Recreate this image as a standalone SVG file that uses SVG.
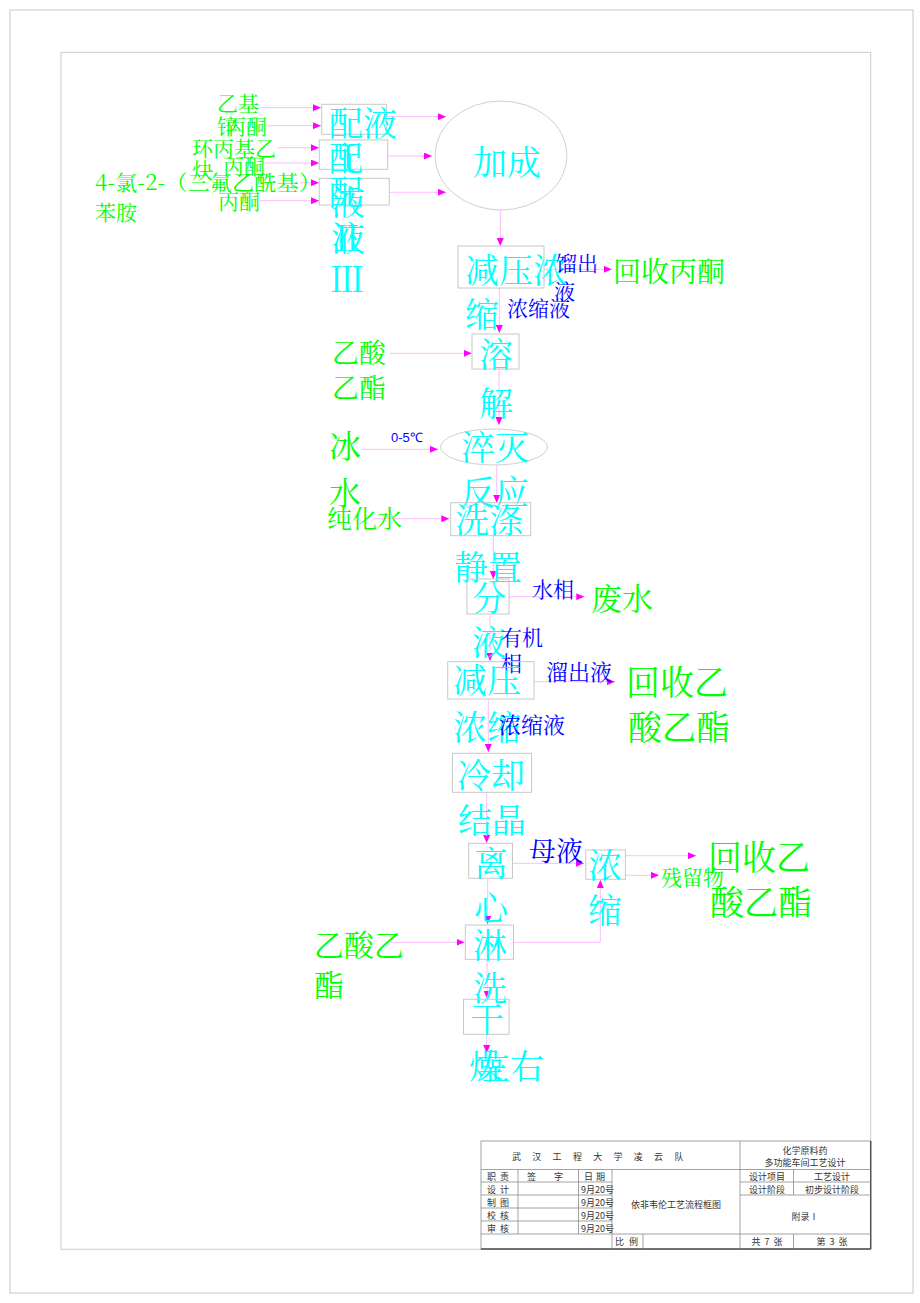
<svg xmlns="http://www.w3.org/2000/svg" width="920" height="1303" viewBox="0 0 920 1303">
<defs>
<marker id="ah" markerUnits="userSpaceOnUse" markerWidth="9" markerHeight="7" refX="8" refY="3.5" orient="auto"><path d="M0,0 L8,3.5 L0,7 z" fill="#ff00ff"/></marker>
</defs>
<style>
.t{font-family:"Noto Serif CJK SC","Noto Sans CJK SC",sans-serif;}
.cy{fill:#00ffff;font-size:34px;}
.gr{fill:#00ff00;}
.bl{fill:#0000ff;}
.bx{fill:none;stroke:#c8c8c8;stroke-width:1;}
.cn{fill:none;stroke:#ffb4ff;stroke-width:0.9;marker-end:url(#ah);}
.tb{font-family:"Noto Sans CJK SC",sans-serif;fill:#333;font-size:9px;}
.tl{stroke:#8a8a8a;stroke-width:0.8;fill:none;}
</style>
<rect width="920" height="1303" fill="#fff"/>
<g id="frame">
<rect x="10" y="10" width="903" height="1283" fill="none" stroke="#c8c8c8" stroke-width="1"/>
<rect x="61" y="52.3" width="809.7" height="1197" fill="none" stroke="#cccccc" stroke-width="1"/>
</g>
<g id="connectors">
<line class="cn" x1="258" y1="107.7" x2="321" y2="107.7"/>
<line class="cn" x1="267" y1="125.7" x2="321" y2="125.7"/>
<line class="cn" x1="278" y1="147.7" x2="319" y2="147.7"/>
<line class="cn" x1="263" y1="163" x2="319" y2="163"/>
<line class="cn" x1="300" y1="182.7" x2="319" y2="182.7"/>
<line class="cn" x1="260" y1="200.7" x2="319" y2="200.7"/>
<line class="cn" x1="386.7" y1="116.7" x2="446" y2="116.7"/>
<line class="cn" x1="387.7" y1="156" x2="432" y2="156"/>
<line class="cn" x1="389.3" y1="192.3" x2="446" y2="192.3"/>
<line class="cn" x1="500.3" y1="210" x2="500.3" y2="246"/>
<line class="cn" x1="544" y1="269.3" x2="611.7" y2="269.3"/>
<line class="cn" x1="499.3" y1="288" x2="499.3" y2="333"/>
<line class="cn" x1="390" y1="353.3" x2="471.7" y2="353.3"/>
<line class="cn" x1="499" y1="369" x2="499" y2="425"/>
<line class="cn" x1="361.7" y1="449.3" x2="438" y2="449.3"/>
<line class="cn" x1="496.7" y1="465" x2="496.7" y2="503"/>
<line class="cn" x1="373" y1="518.7" x2="449.3" y2="518.7"/>
<line class="cn" x1="493.3" y1="535.7" x2="493.3" y2="579"/>
<line class="cn" x1="509" y1="596.7" x2="584.3" y2="596.7"/>
<line class="cn" x1="490" y1="614" x2="490" y2="661"/>
<line class="cn" x1="534" y1="681.7" x2="615" y2="681.7"/>
<line class="cn" x1="488.3" y1="699" x2="488.3" y2="752"/>
<line class="cn" x1="486.6" y1="792.3" x2="486.6" y2="843"/>
<line class="cn" x1="512.5" y1="863.3" x2="584" y2="863.3"/>
<line class="cn" x1="625.4" y1="855.7" x2="696" y2="855.7"/>
<line class="cn" x1="625.4" y1="875.3" x2="659" y2="875.3"/>
<line class="cn" x1="487.7" y1="878.3" x2="487.7" y2="924"/>
<line class="cn" x1="391" y1="942.3" x2="464.6" y2="942.3"/>
<polyline class="cn" points="513.5,942.3 600.3,942.3 600.3,880"/>
<line class="cn" x1="487" y1="959.3" x2="487" y2="998.5"/>
<line class="cn" x1="486.7" y1="1034.3" x2="486.7" y2="1053"/>
</g>
<g id="inputs" class="t">
<text class="gr" x="217" y="111" font-size="21">乙基</text>
<text class="gr" x="217" y="134" font-size="21">锌</text>
<text class="gr" x="225" y="134" font-size="21">丙酮</text>
<text class="gr" x="192" y="156" font-size="21">环丙基乙</text>
<text class="gr" x="192" y="178" font-size="21">炔</text>
<text class="gr" x="223" y="174" font-size="21">丙酮</text>
<text class="gr" x="95" y="190" font-size="21" textLength="226" lengthAdjust="spacingAndGlyphs">4-氯-2-（三氟乙酰基）</text>
<text class="gr" x="95" y="220" font-size="21">苯胺</text>
<text class="gr" x="218" y="209" font-size="21">丙酮</text>
</g>
<g id="n-peiye1" class="t"><rect class="bx" x="321.7" y="104.3" width="65" height="30"/><text class="cy" x="329" y="136">配液</text><text class="cy" x="331" y="171">Ⅰ</text></g>
<g id="n-peiye2" class="t"><rect class="bx" x="319.3" y="140" width="68.4" height="29.3"/><text class="cy" x="329" y="171">配</text><text class="cy" x="331" y="215">液</text><text class="cy" x="330" y="251">Ⅱ</text></g>
<g id="n-peiye3" class="t"><rect class="bx" x="319.3" y="178.3" width="70" height="26.7"/><text class="cy" x="329" y="205">配</text><text class="cy" x="331" y="251">液</text><text class="cy" x="330" y="292">Ⅲ</text></g>
<g id="n-jiacheng" class="t"><ellipse cx="501" cy="155.5" rx="66" ry="54.5" fill="none" stroke="#d0d0d0" stroke-width="1"/><text class="cy" x="473" y="175" font-size="44">加成</text></g>
<g id="n-jianya1" class="t"><rect class="bx" x="458" y="246" width="86" height="42"/><text class="cy" x="465" y="283">减压浓</text><text class="cy" x="465" y="327">缩</text></g>
<g id="out-acetone" class="t"><text class="bl" x="556" y="271" font-size="21">馏出</text><text class="bl" x="554" y="299" font-size="21">液</text><text class="bl" x="507" y="316" font-size="21">浓缩液</text><text class="gr" x="613" y="282" font-size="28">回收丙酮</text></g>
<g id="n-rongjie" class="t"><rect class="bx" x="472" y="334" width="47" height="35"/><text class="cy" x="479" y="367">溶</text><text class="cy" x="479" y="416">解</text><text class="gr" x="332" y="363" font-size="27">乙酸</text><text class="gr" x="332" y="398" font-size="27">乙酯</text></g>
<g id="n-cuimie" class="t"><ellipse cx="494" cy="447" rx="53.5" ry="18" fill="none" stroke="#d0d0d0" stroke-width="1"/><text class="cy" x="461" y="460">淬灭</text><text class="cy" x="461" y="505">反应</text><text class="gr" x="329" y="458" font-size="32">冰</text><text class="gr" x="329" y="505" font-size="32">水</text><text class="bl" x="391" y="442" font-size="13" font-family="Liberation Sans,sans-serif">0-5℃</text></g>
<g id="n-xidi" class="t"><rect class="bx" x="450.7" y="502.7" width="80" height="33"/><text class="cy" x="455" y="533">洗涤</text><text class="cy" x="454" y="580">静置</text><text class="gr" x="327" y="528" font-size="25">纯化水</text></g>
<g id="n-fenye" class="t"><rect class="bx" x="467" y="579" width="42" height="35"/><text class="cy" x="472" y="611">分</text><text class="cy" x="472" y="655">液</text><text class="bl" x="532" y="597" font-size="21">水相</text><text class="gr" x="591" y="610" font-size="31">废水</text><text class="bl" x="501" y="645" font-size="21">有机</text><text class="bl" x="501" y="671" font-size="21">相</text></g>
<g id="n-jianya2" class="t"><rect class="bx" x="447.7" y="661.7" width="86.3" height="37.3"/><text class="cy" x="453" y="693">减压</text><text class="cy" x="453" y="740">浓缩</text><text class="bl" x="546" y="680" font-size="22">溜出液</text><text class="bl" x="499" y="733" font-size="22">浓缩液</text><text class="gr" x="626" y="695" font-size="34">回收乙</text><text class="gr" x="628" y="740" font-size="34">酸乙酯</text></g>
<g id="n-lengque" class="t"><rect class="bx" x="452.5" y="753.3" width="79" height="39"/><text class="cy" x="457" y="788">冷却</text><text class="cy" x="458" y="833">结晶</text></g>
<g id="n-lixin" class="t"><rect class="bx" x="468.7" y="843.3" width="43.8" height="35"/><text class="cy" x="474" y="876">离</text><text class="cy" x="474" y="921">心</text><text class="bl" x="529" y="861" font-size="27">母液</text></g>
<g id="n-nongsuo" class="t"><rect class="bx" x="585.8" y="850" width="39.6" height="29.3"/><text class="cy" x="588" y="878">浓</text><text class="cy" x="588" y="923">缩</text><text class="gr" x="661" y="885" font-size="21">残留物</text><text class="gr" x="708" y="870" font-size="34">回收乙</text><text class="gr" x="710" y="915" font-size="34">酸乙酯</text></g>
<g id="n-linxi" class="t"><rect class="bx" x="465.3" y="925" width="48.2" height="34.3"/><text class="cy" x="473" y="958">淋</text><text class="cy" x="473" y="1001">洗</text><text class="gr" x="314" y="956" font-size="30">乙酸乙</text><text class="gr" x="314" y="996" font-size="30">酯</text></g>
<g id="n-ganzao" class="t"><rect class="bx" x="463.5" y="999.3" width="45.5" height="35"/><text class="cy" x="470" y="1032">干</text><text class="cy" x="469" y="1079">燥</text><text class="cy" x="476" y="1079" font-size="26">左右</text></g>
<g id="titleblock">
<rect x="481" y="1141" width="389.7" height="108" fill="none" stroke="#8a8a8a" stroke-width="0.8"/>
<line x1="481" y1="1249" x2="870.7" y2="1249" stroke="#555" stroke-width="1.5"/>
<line x1="870.7" y1="1141" x2="870.7" y2="1249" stroke="#555" stroke-width="1.5"/>
<line class="tl" x1="481" y1="1169.5" x2="870.7" y2="1169.5"/>
<line class="tl" x1="740" y1="1141" x2="740" y2="1249"/>
<line class="tl" x1="481" y1="1182" x2="612" y2="1182"/>
<line class="tl" x1="481" y1="1195" x2="612" y2="1195"/>
<line class="tl" x1="481" y1="1208" x2="612" y2="1208"/>
<line class="tl" x1="481" y1="1221" x2="612" y2="1221"/>
<line class="tl" x1="481" y1="1234" x2="870.7" y2="1234"/>
<line class="tl" x1="518" y1="1169.5" x2="518" y2="1234"/>
<line class="tl" x1="578.5" y1="1169.5" x2="578.5" y2="1234"/>
<line class="tl" x1="612" y1="1169.5" x2="612" y2="1249"/>
<line class="tl" x1="643" y1="1234" x2="643" y2="1249"/>
<line class="tl" x1="740" y1="1182" x2="870.7" y2="1182"/>
<line class="tl" x1="740" y1="1195" x2="870.7" y2="1195"/>
<line class="tl" x1="793.5" y1="1169.5" x2="793.5" y2="1195"/>
<line class="tl" x1="793.5" y1="1234" x2="793.5" y2="1249"/>
<text class="tb" x="512" y="1160" font-size="13" letter-spacing="11.3">武汉工程大学凌云队</text>
<text class="tb" x="805" y="1154" font-size="10" text-anchor="middle">化学原料药</text>
<text class="tb" x="805" y="1166" font-size="10" text-anchor="middle">多功能车间工艺设计</text>
<text class="tb" x="487" y="1180" letter-spacing="4">职责</text>
<text class="tb" x="527" y="1180" letter-spacing="18">签字</text>
<text class="tb" x="584" y="1180" letter-spacing="3">日期</text>
<text class="tb" x="487" y="1193" letter-spacing="4">设计</text>
<text class="tb" x="487" y="1206" letter-spacing="4">制图</text>
<text class="tb" x="487" y="1219" letter-spacing="4">校核</text>
<text class="tb" x="487" y="1232" letter-spacing="4">审核</text>
<text class="tb" x="581" y="1193">9月20号</text>
<text class="tb" x="581" y="1206">9月20号</text>
<text class="tb" x="581" y="1219">9月20号</text>
<text class="tb" x="581" y="1232">9月20号</text>
<text class="tb" x="676" y="1208" font-size="12.5" text-anchor="middle">依非韦伦工艺流程框图</text>
<text class="tb" x="615" y="1245" letter-spacing="5">比例</text>
<text class="tb" x="767" y="1180" text-anchor="middle">设计项目</text>
<text class="tb" x="832" y="1180" text-anchor="middle">工艺设计</text>
<text class="tb" x="767" y="1193" text-anchor="middle">设计阶段</text>
<text class="tb" x="832" y="1193" text-anchor="middle">初步设计阶段</text>
<text class="tb" x="805" y="1220" font-size="11" text-anchor="middle">附录Ⅰ</text>
<text class="tb" x="767" y="1245" text-anchor="middle" xml:space="preserve">共  7  张</text>
<text class="tb" x="832" y="1245" text-anchor="middle" xml:space="preserve">第  3  张</text>
</g>
</svg>
